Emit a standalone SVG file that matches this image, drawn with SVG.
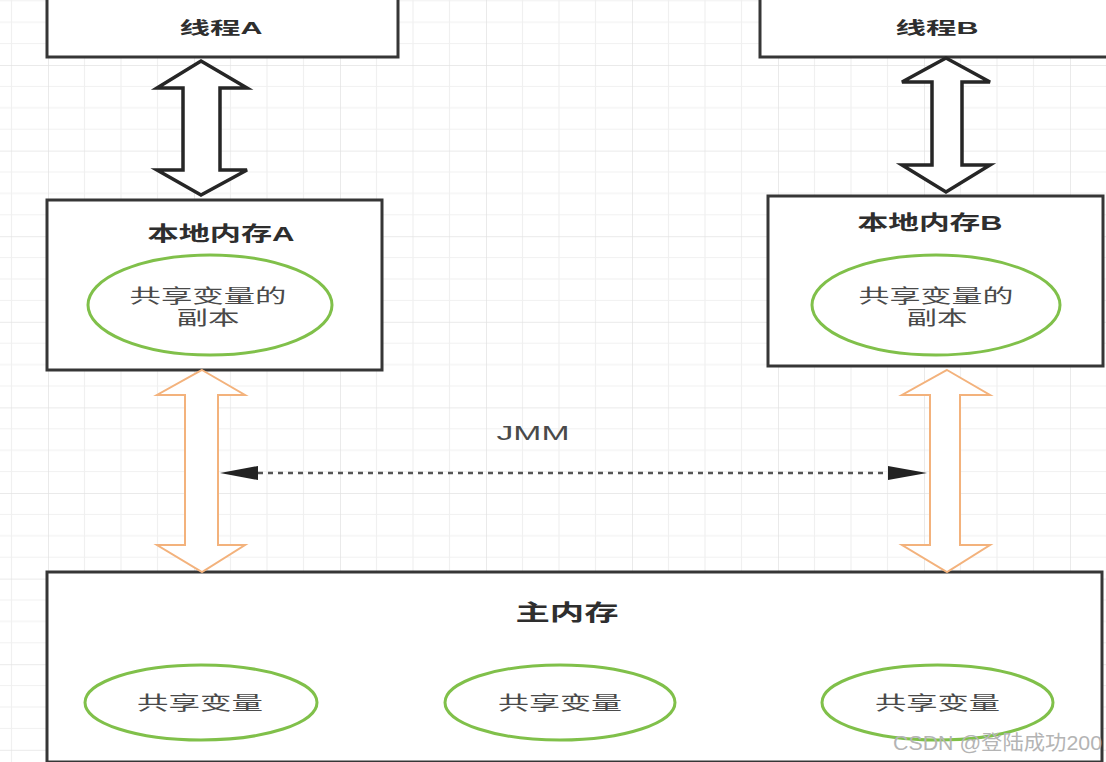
<svg xmlns="http://www.w3.org/2000/svg" width="1106" height="762" viewBox="0 0 1106 762">
<defs>
<pattern id="grid" patternUnits="userSpaceOnUse" x="48" y="65" width="146" height="85.6">
<path d="M36.5,0V85.6M73,0V85.6M109.5,0V85.6M0,21.4H146M0,42.8H146M0,64.2H146" stroke="#f0f0f0" stroke-width="1.2" fill="none"/>
<path d="M0,0V85.6M0,0H146" stroke="#e3e3e3" stroke-width="1.5" fill="none"/>
</pattern>
</defs>
<style>
.box{fill:#fff;stroke:#363636;stroke-width:3}
.ell{fill:#fff;stroke:#80c04a;stroke-width:3}
.t{font-family:"Liberation Sans","Noto Sans CJK SC",sans-serif;font-weight:bold;fill:#2e2e2e;text-anchor:middle;dominant-baseline:central}
.e{font-family:"Liberation Sans","Noto Sans CJK SC",sans-serif;fill:#4a4a4a;text-anchor:middle;dominant-baseline:central}
.w{font-family:"Liberation Sans","Noto Sans CJK SC",sans-serif;fill:#b4b4b4;text-anchor:end;dominant-baseline:central}
.bk{fill:#fff;stroke:#262626;stroke-width:3.5;stroke-linejoin:miter}
.or{fill:#fff;stroke:#f3b27c;stroke-width:2}
</style>
<rect width="1106" height="762" fill="#fff"/>
<rect width="1106" height="762" fill="url(#grid)"/>

<g id="threadA">
<rect class="box" x="47" y="-10" width="351" height="67"/>
<text class="t" x="221" y="28" font-size="17" textLength="83" lengthAdjust="spacingAndGlyphs">线程A</text>
</g>
<g id="threadB">
<rect class="box" x="760" y="-10" width="362" height="67"/>
<text class="t" x="937" y="28" font-size="17" textLength="83" lengthAdjust="spacingAndGlyphs">线程B</text>
</g>
<g id="localA">
<rect class="box" x="47" y="200" width="335" height="170"/>
<text class="t" x="221" y="234" font-size="20" textLength="147" lengthAdjust="spacingAndGlyphs">本地内存A</text>
<ellipse class="ell" cx="210" cy="305" rx="122" ry="50"/>
<text class="e" x="208" y="296" font-size="19" textLength="157" lengthAdjust="spacingAndGlyphs">共享变量的</text>
<text class="e" x="208" y="318" font-size="19" textLength="63" lengthAdjust="spacingAndGlyphs">副本</text>
</g>
<g id="localB">
<rect class="box" x="768" y="196" width="335" height="170"/>
<text class="t" x="930" y="223" font-size="20" textLength="145" lengthAdjust="spacingAndGlyphs">本地内存B</text>
<ellipse class="ell" cx="936" cy="305" rx="124" ry="50"/>
<text class="e" x="936" y="296" font-size="19" textLength="155" lengthAdjust="spacingAndGlyphs">共享变量的</text>
<text class="e" x="937" y="318" font-size="19" textLength="61" lengthAdjust="spacingAndGlyphs">副本</text>
</g>
<g id="mainMemory">
<rect class="box" x="47" y="572" width="1055" height="190"/>
<text class="t" x="567" y="612" font-size="22" textLength="103" lengthAdjust="spacingAndGlyphs">主内存</text>
<ellipse class="ell" cx="201" cy="702.5" rx="116" ry="37.5"/>
<text class="e" x="200" y="703" font-size="19" textLength="126" lengthAdjust="spacingAndGlyphs">共享变量</text>
<ellipse class="ell" cx="560" cy="702.5" rx="115" ry="37.5"/>
<text class="e" x="560" y="703" font-size="19" textLength="124" lengthAdjust="spacingAndGlyphs">共享变量</text>
<ellipse class="ell" cx="937.5" cy="702.5" rx="115.5" ry="37.5"/>
<text class="e" x="937.5" y="703" font-size="19" textLength="125" lengthAdjust="spacingAndGlyphs">共享变量</text>
</g>

<g id="connectors">
<path class="bk" d="M201,61 L247,88 L220,88 L220,170 L247,170 L201,195 L157,170 L183,170 L183,88 L157,88 Z"/>
<path class="bk" d="M946,58 L990,82 L962,82 L962,165 L990,165 L946,192 L902,165 L932,165 L932,82 L902,82 Z"/>
<path class="or" d="M202,370 L245,395 L218,395 L218,545 L245,545 L202,572 L157,545 L185,545 L185,395 L157,395 Z"/>
<path class="or" d="M947,370 L990,395 L960,395 L960,545 L990,545 L947,572 L902,545 L930,545 L930,395 L902,395 Z"/>
<line x1="258" y1="473" x2="888" y2="473" stroke="#555" stroke-width="2.5" stroke-dasharray="5 5"/>
<polygon points="220,473 258,466 258,480" fill="#222"/>
<polygon points="927,473 888,466 888,480" fill="#222"/>
<text class="e" x="533" y="433" font-size="20" fill="#555" textLength="73" lengthAdjust="spacingAndGlyphs">JMM</text>
</g>

<text class="w" x="1102" y="743" font-size="20" textLength="209" lengthAdjust="spacingAndGlyphs">CSDN @登陆成功200</text>
</svg>
